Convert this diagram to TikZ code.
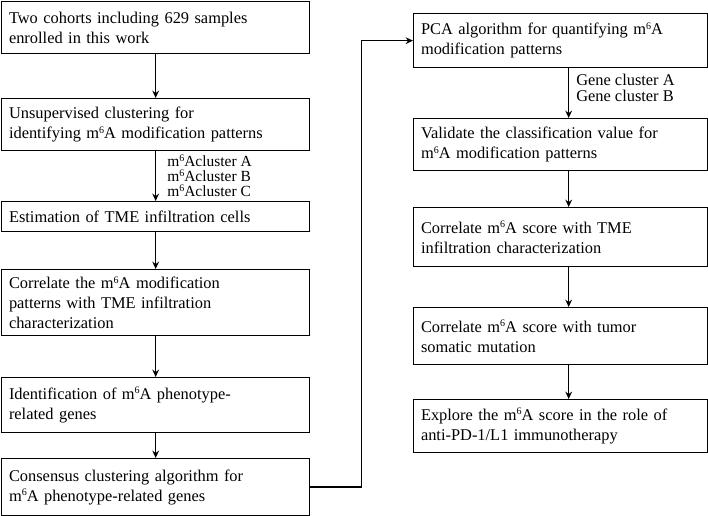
\documentclass[tikz,border=0pt]{standalone}
\usepackage{fontspec}
\setmainfont{Liberation Serif}
\usetikzlibrary{arrows.meta}
\newcommand{\mA}{m\raisebox{0.33em}{\fontsize{7.5}{8}\selectfont 6}A}
\tikzset{
  box/.style={draw=black, line width=1pt, anchor=north west, align=left,
    inner xsep=5.5pt, inner ysep=0pt, font=\fontsize{12.3}{15}\selectfont},
  lbox/.style={box, text width=220pt},
  rbox/.style={box, text width=209.5pt},
  lab/.style={anchor=north west, align=left, inner sep=0pt},
  arr/.style={line width=1pt, -{Stealth[length=5.5pt,width=5pt]}}
}
\begin{document}
\begin{tikzpicture}[x=0.75pt,y=-0.75pt]
\useasboundingbox (0,0) rectangle (708,516);
% left column
\node[lbox, minimum height=39pt] (b1) at (1,1) {Two cohorts including 629 samples\\enrolled in this work};
\node[lbox, minimum height=39pt] (b2) at (1,98) {Unsupervised clustering for\\identifying \mA{} modification patterns};
\node[lbox, minimum height=22.5pt] (b3) at (1,201) {Estimation of TME infiltration cells};
\node[lbox, minimum height=49.5pt] (b4) at (1,269) {Correlate the \mA{} modification\\patterns with TME infiltration\\characterization};
\node[lbox, minimum height=41.25pt] (b5) at (1,377) {Identification of \mA{} phenotype-\\related genes};
\node[lbox, minimum height=42.75pt] (b6) at (1,458) {Consensus clustering algorithm for\\\mA{} phenotype-related genes};
% right column
\node[rbox, minimum height=40.5pt] (b7) at (413,13) {PCA algorithm for quantifying \mA\\modification patterns};
\node[rbox, minimum height=39pt] (b8) at (413,118) {Validate the classification value for\\\mA{} modification patterns};
\node[rbox, minimum height=44.25pt] (b9) at (413,207) {Correlate \mA{} score with TME\\infiltration characterization};
\node[rbox, minimum height=42.75pt] (b10) at (413,307) {Correlate \mA{} score with tumor\\somatic mutation};
\node[rbox, minimum height=39.75pt] (b11) at (413,399) {Explore the \mA{} score in the role of\\anti-PD-1/L1 immunotherapy};
% labels
\node[lab, font=\fontsize{11.6}{11.2}\selectfont] (l1) at (167,155) {\mA cluster A\\\mA cluster B\\\mA cluster C};
\node[lab, font=\fontsize{12.3}{12}\selectfont] (l2) at (576,74) {Gene cluster A\\Gene cluster B};
% arrows
\draw[arr] (b1.south) -- (b2.north);
\draw[arr] (b2.south) -- (b3.north);
\draw[arr] (b3.south) -- (b4.north);
\draw[arr] (b4.south) -- (b5.north);
\draw[arr] (b5.south) -- (b6.north);
\draw[arr] (b6.east) -- ++(51,0) |- (b7.west);
\draw[arr] ([xshift=6pt]b7.south) -- ([xshift=6pt]b8.north);
\draw[arr] ([xshift=6pt]b8.south) -- ([xshift=6pt]b9.north);
\draw[arr] ([xshift=6pt]b9.south) -- ([xshift=6pt]b10.north);
\draw[arr] ([xshift=6pt]b10.south) -- ([xshift=6pt]b11.north);
\end{tikzpicture}
\end{document}
